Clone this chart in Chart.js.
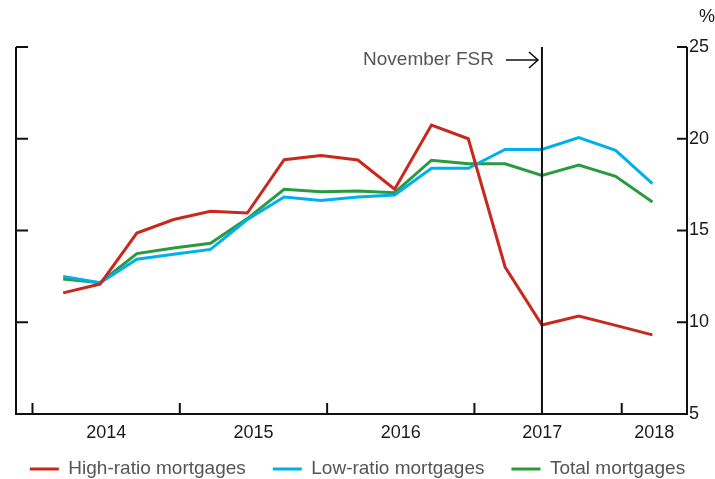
<!DOCTYPE html>
<html>
<head>
<meta charset="utf-8">
<script src="https://cdn.jsdelivr.net/npm/chart.js@4"></script>
<style>
  body { margin: 0; background: #fff; }
  #wrap { width: 715px; height: 479px; position: relative; }
</style>
</head>
<body>
<div id="wrap"><canvas id="chart"></canvas></div>
<script>
const quarters = ['2014-Q1', '2014-Q2', '2014-Q3', '2014-Q4', '2015-Q1', '2015-Q2', '2015-Q3', '2015-Q4',
  '2016-Q1', '2016-Q2', '2016-Q3', '2016-Q4', '2017-Q1', '2017-Q2', '2017-Q3', '2017-Q4', '2018-Q1'];
const highRatio = [11.6, 12.08, 14.86, 15.6, 16.05, 15.95, 18.86, 19.08, 18.84, 17.25, 20.75, 20.0, 13.01, 9.85, 10.34, 9.83, 9.31];
const lowRatio = [12.5, 12.15, 13.43, 13.7, 13.97, 15.6, 16.83, 16.64, 16.83, 16.93, 18.39, 18.39, 19.42, 19.42, 20.06, 19.37, 17.55];
const totalMortgages = [12.36, 12.15, 13.74, 14.05, 14.3, 15.65, 17.25, 17.11, 17.15, 17.06, 18.83, 18.64, 18.64, 18.0, 18.57, 17.95, 16.55];

const yearTicks = [2014, 2015, 2016, 2017, 2018];
const yearLabels = ['2014', '2015', '2016', '2017', '2018'];
const yearLabelAt = [2014.5, 2015.5, 2016.5, 2017.46, 2018.22];
const yTicks = [5, 10, 15, 20, 25];
const fsrQuarter = '2017-Q2';

// quarter -> decimal year (observations sit late in the quarter's first months)
const toYear = (q) => {
  const [yr, qq] = q.split('-Q').map(Number);
  return yr + (3 * (qq - 1) + 2.5) / 12;
};
const pts = (vals) => vals.map((v, i) => ({ x: toYear(quarters[i]), y: v }));

const FONT = '"Liberation Sans", Arial, sans-serif';

const frame = {
  id: 'frame',
  afterDatasetsDraw(chart) {
    const { ctx, chartArea: a, scales: { x, y } } = chart;
    ctx.save();
    ctx.strokeStyle = '#111';
    ctx.lineWidth = 2;
    ctx.beginPath();
    ctx.moveTo(a.left, a.top);
    ctx.lineTo(a.left, a.bottom);
    ctx.lineTo(a.right, a.bottom);
    ctx.lineTo(a.right, a.top);
    yTicks.forEach((v) => {
      const py = y.getPixelForValue(v);
      ctx.moveTo(a.left, py); ctx.lineTo(a.left + 12, py);
      ctx.moveTo(a.right, py); ctx.lineTo(a.right - 10, py);
    });
    yearTicks.forEach((v) => {
      const px = x.getPixelForValue(v);
      ctx.moveTo(px, a.bottom); ctx.lineTo(px, a.bottom - 11);
    });
    const fx = x.getPixelForValue(toYear(fsrQuarter));
    ctx.moveTo(fx, a.top); ctx.lineTo(fx, a.bottom);
    ctx.stroke();

    // arrow pointing at the FSR line
    const ay = a.top + 13;
    ctx.lineWidth = 1.6;
    ctx.beginPath();
    ctx.moveTo(fx - 36, ay); ctx.lineTo(fx - 4, ay);
    ctx.moveTo(fx - 13, ay - 8); ctx.lineTo(fx - 4, ay); ctx.lineTo(fx - 13, ay + 8);
    ctx.stroke();

    ctx.fillStyle = '#555';
    ctx.font = '19px ' + FONT;
    ctx.textAlign = 'right';
    ctx.textBaseline = 'middle';
    ctx.fillText('November FSR', fx - 48, ay);

    ctx.fillStyle = '#1a1a1a';
    ctx.font = '18px ' + FONT;
    ctx.textAlign = 'center';
    yearLabels.forEach((t, i) => {
      ctx.fillText(t, x.getPixelForValue(yearLabelAt[i]), a.bottom + 19);
    });
    ctx.textAlign = 'left';
    yTicks.forEach((v) => {
      ctx.fillText(String(v), a.right + 2, y.getPixelForValue(v));
    });
    ctx.fillText('%', a.right + 12, 17);
    ctx.restore();
  }
};

const hidden = { grid: { display: false }, border: { display: false }, ticks: { display: false } };

new Chart(document.getElementById('chart'), {
  type: 'line',
  data: {
    datasets: [
      { label: 'High-ratio mortgages', data: pts(highRatio), borderColor: '#c8281e' },
      { label: 'Low-ratio mortgages', data: pts(lowRatio), borderColor: '#00b0ee' },
      { label: 'Total mortgages', data: pts(totalMortgages), borderColor: '#2a9a40' },
    ],
  },
  options: {
    responsive: true,
    maintainAspectRatio: false,
    animation: false,
    layout: { padding: { left: 0, right: 0, top: 47, bottom: -9.5 } },
    elements: {
      line: { borderWidth: 3, tension: 0 },
      point: { radius: 0 },
    },
    scales: {
      x: {
        type: 'linear',
        min: 2013.888,
        max: 2018.443,
        ...hidden,
        afterFit: (s) => { s.height = 18.5; },
      },
      y: {
        min: 5,
        max: 25,
        position: 'left',
        ...hidden,
        afterFit: (s) => { s.width = 16; },
      },
      yr: {
        min: 5,
        max: 25,
        position: 'right',
        ...hidden,
        afterFit: (s) => { s.width = 28; },
      },
    },
    plugins: {
      tooltip: { enabled: false },
      legend: {
        position: 'bottom',
        labels: {
          font: { family: FONT, size: 19 },
          color: '#555',
          boxWidth: 29,
          boxHeight: 3,
          padding: 27,
          generateLabels: (chart) => chart.data.datasets.map((d, i) => ({
            text: d.label,
            fillStyle: d.borderColor,
            strokeStyle: d.borderColor,
            lineWidth: 0,
            hidden: false,
            datasetIndex: i,
            fontColor: '#555',
          })),
        },
      },
    },
  },
  plugins: [frame],
});
</script>
</body>
</html>
